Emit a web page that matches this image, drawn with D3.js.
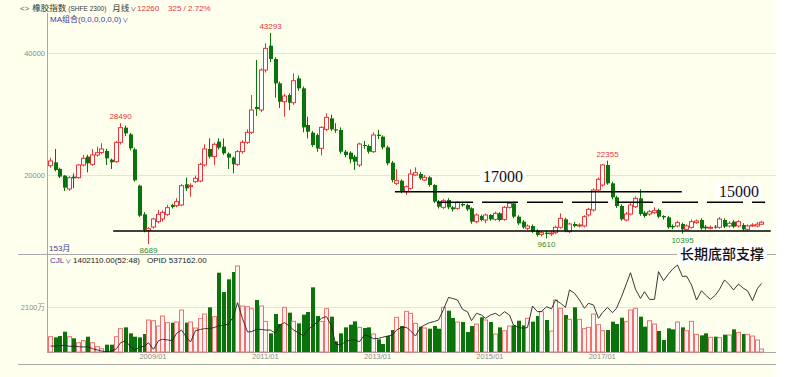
<!DOCTYPE html>
<html>
<head>
<meta charset="utf-8">
<script src="https://cdn.jsdelivr.net/npm/d3@7"></script>
<style>
  body { margin: 0; background: #fff; }
</style>
</head>
<body>
<div id="container"></div>
<script>
// monthly candles of the rubber index, 2007/03 .. 2019/11 (153 months)
let months = d3.timeMonth.range(new Date(2007, 2, 1), new Date(2019, 11, 1)).map(d3.timeFormat("%Y/%m"));

let opens = [21532,22079,21000,19893,17707,19729,19565,21641,23007,21750,23280,23700,23936,22515,22187,25356,27762,26669,24209,18254,
  13555,10900,11478,12353,12790,13555,15084,14975,15084,18472,18100,18909,19019,21641,24264,23007,25466,24646,23500,22843,
  21750,23827,25356,26997,31148,30657,37214,41202,39016,35024,32018,33112,31855,35843,34204,28193,26937,26555,24370,27484,
  29287,27484,27376,23824,23660,23005,21638,24917,24753,23824,26611,26283,24534,22021,18634,19070,17268,17814,20000,20163,
  19180,19617,18360,15628,14700,15900,14700,14535,15245,15082,14535,12350,13279,12623,13443,12732,13716,12732,14700,15355,
  13170,12350,11257,11640,10875,10274,10547,10400,10547,11421,12733,10711,11968,11640,11640,13443,14263,17541,18360,21639,
  18634,16339,14918,12623,13607,14809,16175,13825,13607,13825,14263,13279,13060,11640,11640,11968,11093,11421,12186,12623,
  11530,11257,11530,11421,12623,11640,12350,11640,11804,11093,11640,11640,11935];
let highs = [22800,24264,21200,20000,19800,20276,21800,23300,23300,24264,24650,25200,24300,22700,25600,28490,28100,26900,24500,18400,
  13900,11500,13000,14264,14200,15100,15300,16200,18500,19565,18636,19900,22000,25028,26000,25300,26000,26000,23700,23000,
  24100,25700,27500,33115,38853,37500,41585,43293,39300,35300,33300,33400,36663,36300,34500,29560,27200,26800,28000,30100,
  29900,28500,27800,24100,23900,23300,25300,25600,25000,27000,27400,26500,24800,22300,20928,19300,18300,20928,21256,20500,
  20000,19800,18500,15900,16100,16200,14900,15700,15500,15300,14700,13700,13500,13700,13600,14000,13900,14900,15600,15600,
  13400,12600,11900,11900,11100,10800,10900,10800,11700,13716,13000,12200,12300,12100,13400,14600,17800,19600,21800,22355,
  18900,16600,15200,13900,15400,16500,17650,14100,14300,14700,14500,13400,13300,11900,12500,12200,11900,12700,12700,12900,
  11800,11700,11800,13100,12900,12400,12600,12600,12100,11900,12100,12300,12500];
let lows = [21200,20600,19500,17379,17400,17817,19400,21400,20440,21500,23000,23400,21641,20985,22000,25000,26400,24000,18900,13100,
  10600,8689,11200,12100,12400,13300,14500,14700,14900,17379,16450,18700,18800,21400,22700,21641,24200,23300,20985,20276,
  21500,23500,25100,26700,29700,30300,36800,38500,32678,31000,29560,30650,31500,33800,27000,26000,24600,23800,23200,27200,
  27200,26900,23500,22900,21912,20819,21300,24300,23500,23600,25900,24200,21600,18800,18360,17000,16730,17600,19800,19200,
  19000,18100,15400,14500,14400,14400,14000,14300,14800,14100,12000,12100,12400,12100,12500,12500,12400,12500,14500,12900,
  11800,11200,11000,10500,9900,9950,9610,10000,10300,11200,10600,10500,11400,11400,11400,13200,14000,17300,18100,18400,
  16000,14600,12500,12400,13400,14600,13300,13000,13300,13600,12900,12700,11200,11100,11400,10395,10900,11200,12000,11000,
  11000,11100,11200,11200,11300,11400,11300,11400,10900,10900,11500,11400,11800];
let closes = [22297,20821,19729,17926,19565,19456,21641,22734,21914,23280,23663,24264,22734,22079,25356,27762,26833,24373,19128,13336,
  10987,11200,12790,13555,13882,14646,14756,15631,18254,17817,18300,19456,21750,24264,23007,25028,24482,23553,22843,21750,
  23827,25356,26997,30657,30821,37214,40765,39016,35024,32018,32947,31855,35460,34204,27811,27100,24915,24370,27811,29450,
  27484,27300,23825,23278,22568,22185,25081,24753,23824,26556,26392,24534,21912,19180,19070,17268,18087,20163,20382,19453,
  19617,18360,15628,14809,15792,14700,14371,15464,15027,14371,12350,13443,12623,13443,12732,13716,12623,14700,15355,13170,
  12076,11421,11640,10711,10165,10547,10328,10500,11421,12897,10875,11968,11640,11804,13170,14372,17541,19289,21639,18634,
  16339,14918,12733,13607,15082,16175,13607,13279,13989,14154,13170,13060,11421,11421,12186,11093,11640,12350,12460,11257,
  11257,11421,11366,12787,11530,12076,11530,12350,11093,11640,11804,11935,12260];

// volume (CJL) in 万手 and open interest (OPID) in 万手
let volumes = [714,683,746,948,714,637,434,528,714,434,247,154,341,341,714,1088,1150,870,714,683,
  839,1493,1461,1212,1679,1368,1368,1399,1959,1368,1399,1119,1554,1772,2084,1648,3702,2800,3391,3733,
  4013,2146,2115,2017,2426,2146,1430,870,1773,1306,2084,1835,1430,1337,1741,1866,3017,1679,1430,2021,
  1648,497,870,1150,1275,1430,1150,1119,1150,839,590,373,747,1026,1617,1212,1897,1804,1337,1181,
  1119,1088,1212,1088,2084,1928,1586,1399,1399,932,1212,1306,1617,1493,1399,839,1150,994,1212,1243,
  1461,1243,1570,1415,1679,1881,1493,979,2426,2037,1726,1524,2084,1524,1088,1150,1772,1275,994,1026,
  1415,1306,1601,1415,1959,2037,1648,1181,1461,1306,980,560,1103,1057,1399,1150,994,1430,823,777,
  870,684,715,668,808,792,1057,917,839,823,746,560,140.211];
let openInterest = [13.8,13.8,14.0,14.3,13.6,13.8,13.4,13.2,13.4,12.1,11.3,10.6,10.2,10.6,12.1,15.9,17.2,13.4,11.3,13.0,
  13.8,15.9,11.7,17.2,18.1,17.7,17.2,21.9,24.0,19.4,16.4,23.6,24.4,24.9,24.9,25.7,26.6,27.0,27.9,32.6,
  41.5,31.3,22.8,23.0,24.4,24.4,24.0,24.0,21.9,27.2,28.7,26.6,24.0,22.3,20.2,24.0,26.6,29.3,31.5,32.6,
  26.6,15.1,14.5,16.6,17.7,17.7,16.6,20.9,20.2,18.5,18.7,19.4,20.2,20.9,24.0,25.7,25.7,23.6,20.2,25.7,
  27.2,28.7,29.5,30.4,37.2,44.8,44.2,43.2,37.2,35.7,30.0,34.7,33.6,31.5,33.6,34.7,33.0,35.7,33.6,27.2,
  25.7,25.1,25.7,39.3,35.7,35.9,38.9,37.6,43.2,41.1,38.5,49.6,47.5,43.2,37.9,41.1,40.0,31.5,35.1,38.5,
  35.1,37.9,45.3,53.8,60.6,50.0,44.2,48.5,43.6,43.6,61.3,55.5,59.8,62.8,65.5,58.1,58.5,52.8,43.2,49.1,
  46.4,43.6,46.4,50.0,56.0,52.8,49.6,53.4,50.6,49.1,42.8,50.6,53.7162];

let priceTicks = [20000, 40000];
let volumeTicks = [2100];
let dateTicks = ["2009/01", "2011/01", "2013/01", "2015/01", "2017/01"];

// marked extremes: month, value
let highMarks = [["2008/06", 28490], ["2011/02", 43293], ["2017/02", 22355]];
let lowMarks = [["2008/12", 8689], ["2016/01", 9610], ["2018/06", 10395]];

// hand drawn levels (month index from, to, price)
let levelLines = [
  {from: 13.5, to: 154, value: 10820, dash: null},
  {from: 73.7, to: 135, value: 17262, dash: null},
  {from: 82.7, to: 152.8, value: 15525, dash: "36,9"}
];
let levelNotes = [
  {text: "17000", at: 96.8, value: 19690, size: 16, cjk: false},
  {text: "15000", at: 147.2, value: 17220, size: 16, cjk: false},
  {text: "长期底部支撑", at: 143.6, value: 7200, size: 14, cjk: true}
];

let w = 796;
let h = 377;
let red = "#e8353a";
let green = "#0b730b";
let sans = "'Liberation Sans', Arial, 'Noto Sans CJK SC', sans-serif";
let cjk = "'Noto Sans CJK SC', sans-serif";

let svg = d3.select("#container")
  .append("svg")
    .attr("width", w)
    .attr("height", h)
    .attr("font-family", sans)
;
svg.append("rect").attr("width", 776).attr("height", h).attr("fill", "#ffffee");

let x = d3.scaleBand().domain(months).range([47.66, 763.7]);
let step = x.bandwidth();
function cx(m){ return Math.round(x(m) + step / 2); }
let xIdx = d3.scaleLinear().domain([0, months.length - 1]).range([x(months[0]) + step / 2, x(months[months.length - 1]) + step / 2]);

let yPrice = d3.scaleLinear().domain([20000, 40000]).range([175, 53]);
let yVol = d3.scaleLinear().domain([0, 2100]).range([352, 307]);
let yOI = d3.scaleLinear().domain([10, 70]).range([352, 258]);

let candles = months.map(function(m, i){
  return {month: m, open: opens[i], high: highs[i], low: lows[i], close: closes[i], vol: volumes[i], oi: openInterest[i]};
});

// ---- frame, grid, axes
let grid = svg.append("g").attr("stroke", "#e4e4d6").attr("shape-rendering", "crispEdges");
priceTicks.forEach(function(t){
  grid.append("line").attr("x1", 48).attr("x2", 776).attr("y1", yPrice(t)).attr("y2", yPrice(t));
});
volumeTicks.forEach(function(t){
  grid.append("line").attr("x1", 48).attr("x2", 776).attr("y1", yVol(t)).attr("y2", yVol(t));
});

let frame = svg.append("g").attr("stroke", "#a8a8a8").attr("shape-rendering", "crispEdges");
frame.append("line").attr("x1", 47.5).attr("x2", 47.5).attr("y1", 13).attr("y2", 352);
frame.append("line").attr("x1", 18).attr("x2", 776).attr("y1", 254.5).attr("y2", 254.5);
frame.append("line").attr("x1", 47).attr("x2", 776).attr("y1", 352.5).attr("y2", 352.5);
frame.append("line").attr("x1", 18).attr("x2", 776).attr("y1", 364.5).attr("y2", 364.5);

let yAxisGroup = svg.append("g")
    .attr("transform", "translate(46,0)")
    .call(d3.axisLeft(yPrice).tickValues(priceTicks).tickSize(0).tickPadding(1).tickFormat(d3.format("d")))
;
let volAxisGroup = svg.append("g")
    .attr("transform", "translate(46,0)")
    .call(d3.axisLeft(yVol).tickValues(volumeTicks).tickSize(0).tickPadding(1).tickFormat(function(d){ return d + "万"; }))
;
let xAxisGroup = svg.append("g")
    .attr("transform", "translate(0,353)")
    .call(d3.axisBottom(x).tickValues(dateTicks).tickSize(0).tickPadding(1))
;
[yAxisGroup, volAxisGroup, xAxisGroup].forEach(function(g){
  g.attr("font-family", sans);
  g.select(".domain").remove();
  g.selectAll("text").attr("fill", "#8a8a8a").attr("font-size", 7.5);
});

// ---- candles
let candleGroup = svg.append("g");
candleGroup.selectAll(".wick")
  .data(candles)
  .enter()
  .append("line")
    .attr("x1", function(d){ return cx(d.month) + 0.5; })
    .attr("x2", function(d){ return cx(d.month) + 0.5; })
    .attr("y1", function(d){ return yPrice(d.high); })
    .attr("y2", function(d){ return yPrice(d.low); })
    .attr("stroke", function(d){ return d.close >= d.open ? red : green; })
    .attr("stroke-width", 1)
;
candleGroup.selectAll(".body")
  .data(candles)
  .enter()
  .append("rect")
    .attr("x", function(d){ return d.close >= d.open ? cx(d.month) - 1.5 : cx(d.month) - 1; })
    .attr("width", 4)
    .attr("y", function(d){ return yPrice(Math.max(d.open, d.close)); })
    .attr("height", function(d){ return Math.max(1, Math.abs(yPrice(d.open) - yPrice(d.close))); })
    .attr("fill", function(d){ return d.close >= d.open ? "#ffffff" : green; })
    .attr("stroke", function(d){ return d.close >= d.open ? red : "none"; })
    .attr("stroke-width", 1)
;

// ---- volume bars and open interest
let volGroup = svg.append("g");
volGroup.selectAll("rect")
  .data(candles)
  .enter()
  .append("rect")
    .attr("x", function(d){ return d.close >= d.open ? cx(d.month) - 1.5 : cx(d.month) - 1; })
    .attr("width", 4)
    .attr("y", function(d){ return yVol(d.vol); })
    .attr("height", function(d){ return yVol(0) - yVol(d.vol); })
    .attr("fill", function(d){ return d.close >= d.open ? "#fff4f2" : green; })
    .attr("stroke", function(d){ return d.close >= d.open ? "#f0706e" : "none"; })
;
let oiLine = d3.line()
  .x(function(d){ return cx(d.month) + 0.5; })
  .y(function(d){ return yOI(d.oi); })
;
svg.append("path")
  .datum(candles)
  .attr("d", oiLine)
  .attr("fill", "none")
  .attr("stroke", "#222")
  .attr("stroke-width", 0.9)
;

// ---- level lines and notes
levelLines.forEach(function(l){
  svg.append("line")
    .attr("x1", xIdx(l.from)).attr("x2", xIdx(l.to))
    .attr("y1", yPrice(l.value)).attr("y2", yPrice(l.value))
    .attr("stroke", "#000").attr("stroke-width", 1.6)
    .attr("stroke-dasharray", l.dash)
  ;
});
levelNotes.forEach(function(n){
  let t = svg.append("text")
    .attr("x", xIdx(n.at)).attr("y", yPrice(n.value))
    .attr("text-anchor", "middle").attr("dominant-baseline", "central")
    .attr("font-size", n.size)
    .attr("font-family", n.cjk ? cjk : "'Liberation Serif', 'DejaVu Serif', serif")
    .attr("font-weight", n.cjk ? 500 : 400)
    .attr("fill", "#111")
    .text(n.text)
  ;
  let b = t.node().getBBox();
  svg.insert("rect", function(){ return t.node(); })
    .attr("x", b.x - 3).attr("y", b.y).attr("width", b.width + 6).attr("height", b.height)
    .attr("fill", "#ffffff")
  ;
});

// ---- extreme labels
highMarks.forEach(function(m){
  svg.append("text")
    .attr("x", cx(m[0]) + 0.5).attr("y", yPrice(m[1]) - 4)
    .attr("text-anchor", "middle").attr("font-size", 8).attr("fill", red)
    .text(m[1]);
});
lowMarks.forEach(function(m){
  svg.append("text")
    .attr("x", cx(m[0]) + 0.5).attr("y", yPrice(m[1]) + 9)
    .attr("text-anchor", "middle").attr("font-size", 8).attr("fill", "#2d8a2d")
    .text(m[1]);
});

// ---- header texts
let last = candles[candles.length - 1];
let prev = candles[candles.length - 2];
let header = svg.append("text").attr("x", 20).attr("y", 11).attr("font-size", 8).attr("fill", "#333");
header.append("tspan").attr("fill", "#556").text("<>");
header.append("tspan").attr("dx", 3).attr("font-family", cjk).attr("font-size", 8.5).text("橡胶指数");
header.append("tspan").attr("dx", 2).attr("font-size", 6.5).text("(SHFE 2300)");
header.append("tspan").attr("dx", 6).attr("font-family", cjk).attr("font-size", 8.5).text("月线");
header.append("tspan").attr("dx", 1).attr("font-size", 6).attr("fill", "#3a3a9a").text("∨");
header.append("tspan").attr("x", 137).attr("fill", red).text(last.close);
header.append("tspan").attr("x", 168).attr("fill", red)
  .text((last.close - prev.close) + " / " + d3.format(".2f")((last.close - prev.close) / prev.close * 100) + "%");

let maText = svg.append("text").attr("x", 50).attr("y", 22).attr("font-size", 8).attr("fill", "#3a3a9a");
maText.append("tspan").text("MA组合(0,0,0,0,0,0)");
maText.append("tspan").attr("dx", 1).attr("font-size", 6).text("∨");
svg.append("text").attr("x", 49).attr("y", 251).attr("font-size", 8).attr("fill", "#3a3a9a")
  .text(months.length + "月");

let volHeader = svg.append("text").attr("x", 50).attr("y", 263).attr("font-size", 8).attr("fill", "#222");
volHeader.append("tspan").attr("fill", "#3a3a9a").text("CJL");
volHeader.append("tspan").attr("dx", 1).attr("font-size", 6).attr("fill", "#3a3a9a").text("∨");
volHeader.append("tspan").attr("x", 73).text(d3.format(".2f")(last.vol * 10000) + "(52:48)");
volHeader.append("tspan").attr("x", 147).text("OPID " + d3.format(".2f")(last.oi * 10000));
</script>
</body>
</html>
